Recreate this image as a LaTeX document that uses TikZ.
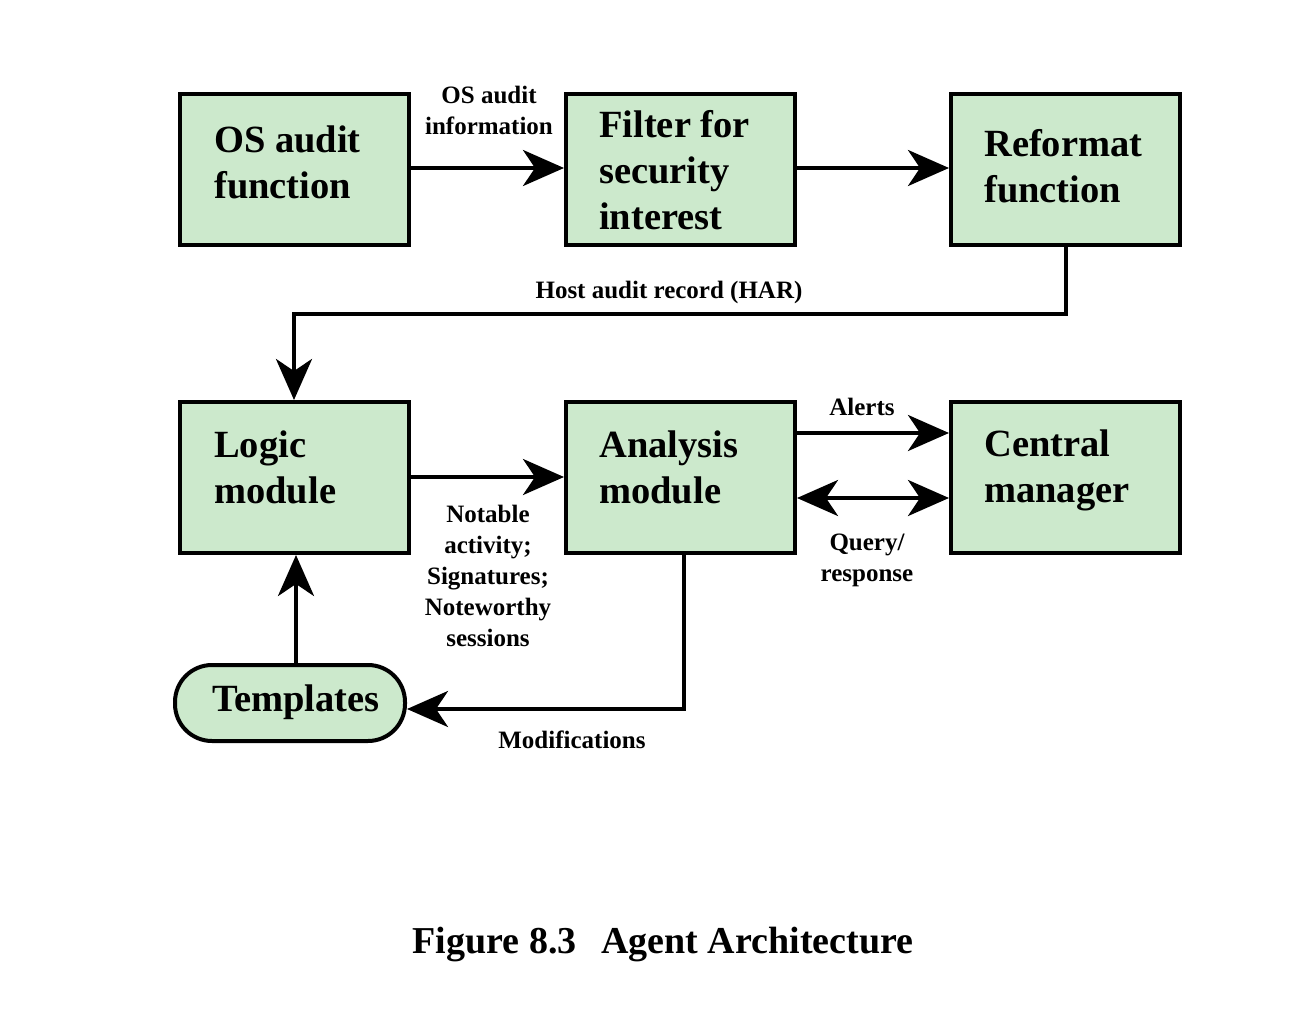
\documentclass[tikz,border=0pt]{standalone}
\usepackage{fontspec}
\setmainfont{Liberation Serif}
\usetikzlibrary{arrows.meta}
\definecolor{boxgreen}{RGB}{204,233,204}
\begin{document}
\begin{tikzpicture}[x=1pt,y=-1pt,
  box/.style={draw,line width=4pt,fill=boxgreen,minimum width=229pt,minimum height=151pt,inner sep=0pt},
  boxtext/.style={anchor=base west,inner sep=0pt,align=left,
    font=\fontsize{38.5}{46}\selectfont\bfseries},
  lbl/.style={font=\fontsize{25}{31}\selectfont\bfseries,align=center,inner sep=0pt},
  conn/.style={line width=4pt},
  arr/.style={conn,-{Stealth[length=41pt,width=36pt,inset=12pt]}},
  darr/.style={conn,{Stealth[length=41pt,width=36pt,inset=12pt]}-{Stealth[length=41pt,width=36pt,inset=12pt]}}
]
\useasboundingbox (0,0) rectangle (1309,1022);

\node[box] (os) at (294.5,169.5) {};
\node[box] (filter) at (680.5,169.5) {};
\node[box] (reformat) at (1065.5,169.5) {};
\node[box] (logic) at (294.5,477.5) {};
\node[box] (analysis) at (680.5,477.5) {};
\node[box] (central) at (1065.5,477.5) {};
\node[draw,line width=4pt,fill=boxgreen,rounded corners=37pt,minimum width=230pt,minimum height=76pt,
  inner sep=0pt] (templates) at (290,703) {};

% base anchor = baseline of last line
\node[boxtext] (os-t) at (214,198) {OS audit\\function};
\node[boxtext] (filter-t) at (599,229) {Filter for\\security\\interest};
\node[boxtext] (reformat-t) at (984,202) {Reformat\\function};
\node[boxtext] (logic-t) at (214,503) {Logic\\module};
\node[boxtext] (analysis-t) at (599,503) {Analysis\\module};
\node[boxtext] (central-t) at (984,502) {Central\\manager};
\node[boxtext,anchor=base] (templates-t) at (296,711) {Templates};

\coordinate (har1) at (1066,314);
\coordinate (har2) at (294,314);
\coordinate (mod1) at (684,709);

\draw[arr] (os.east |- 0,168) -- (filter.west |- 0,168);
\draw[arr] (filter.east |- 0,168) -- (reformat.west |- 0,168);
\draw[arr] (reformat.south -| har1) -- (har1) -- (har2) -- (logic.north -| har2);
\draw[arr] (logic.east |- 0,477) -- (analysis.west |- 0,477);
\draw[arr] (analysis.east |- 0,433) -- (central.west |- 0,433);
\draw[darr] (analysis.east |- 0,498) -- (central.west |- 0,498);
\draw[arr] (analysis.south -| mod1) -- (mod1) -- (templates.east |- mod1);
\draw[arr] (templates.north -| 296,0) -- (logic.south -| 296,0);

\node[lbl] (l1) at (489,110) {OS audit\\information};
\node[lbl] (l2) at (669,292) {Host audit record (HAR)};
\node[lbl] (l3) at (488,576) {Notable\\activity;\\Signatures;\\Noteworthy\\sessions};
\node[lbl] (l4) at (862,407) {Alerts};
\node[lbl] (l5) at (867,560) {Query/\\response};
\node[lbl] (l6) at (572,740) {Modifications};

\node[font=\fontsize{38}{46}\selectfont\bfseries,inner sep=0pt,anchor=base] (cap) at (663,953) {Figure 8.3\hspace{0.4em} Agent Architecture};
\end{tikzpicture}
\end{document}
